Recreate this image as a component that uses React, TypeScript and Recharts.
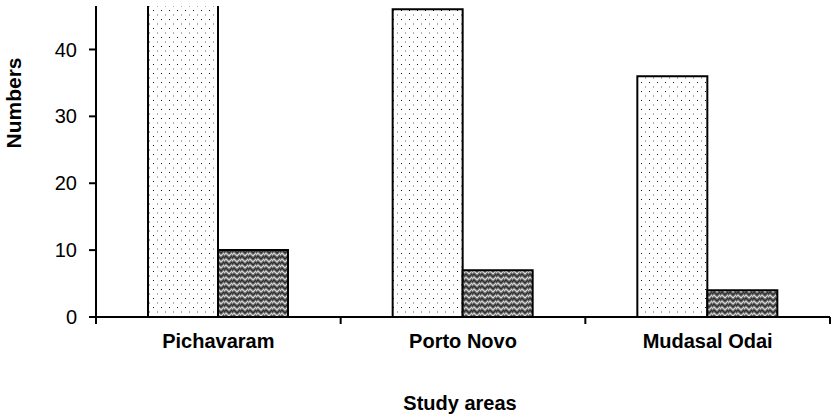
import React from 'react';
import { BarChart, Bar, XAxis, YAxis } from 'recharts';

const areas = ['Pichavaram', 'Porto Novo', 'Mudasal Odai'];
// first series runs past the top of the axis in the source figure
const seriesA = [52, 46, 36];
const seriesB = [10, 7, 4];
const yTicks = [0, 10, 20, 30, 40];

const data = areas.map((name, i) => ({ name, a: seriesA[i], b: seriesB[i] }));

const FONT = '"Liberation Sans", Arial, sans-serif';

const AreaTick = (props: any) => {
  const { x, y, payload, index } = props;
  const half = payload?.offset ?? 0;
  return (
    <g>
      <line x1={x - half} x2={x - half} y1={y} y2={y + 7} stroke="#000" strokeWidth={2} />
      {index === areas.length - 1 && (
        <line x1={x + half} x2={x + half} y1={y} y2={y + 7} stroke="#000" strokeWidth={2} />
      )}
      <text x={x} y={y + 31} textAnchor="middle" fontFamily={FONT} fontWeight="bold" fontSize={20} fill="#000">
        {payload.value}
      </text>
    </g>
  );
};

const App: React.FC = () => {
  return (
    <div style={{ position: 'absolute', left: 0, top: 0, width: 834, height: 417, background: '#fff' }}>
      <BarChart
        width={834}
        height={417}
        data={data}
        margin={{ top: 6, right: 4, bottom: 0, left: 0 }}
        barGap={0}
        barCategoryGap={52}
      >
        <defs>
          <pattern id="dots" width="8" height="9" patternUnits="userSpaceOnUse">
            <rect width="8" height="9" fill="#fff" />
            <rect x="1" y="1" width="1" height="1" fill="#111" />
            <rect x="5" y="5.5" width="1" height="1" fill="#555" />
          </pattern>
          <pattern id="weave" width="8" height="6" patternUnits="userSpaceOnUse">
            <rect width="8" height="6" fill="#6a6a6a" />
            <polyline points="-1,4 2,1 5,4 8,1 11,4" fill="none" stroke="#d8d8d8" strokeWidth="1.2" />
            <polyline points="-1,7 2,4 5,7 8,4 11,7" fill="none" stroke="#2e2e2e" strokeWidth="1.2" />
            <polyline points="-1,1 2,-2 5,1 8,-2 11,1" fill="none" stroke="#2e2e2e" strokeWidth="1.2" />
          </pattern>
        </defs>
        <XAxis
          dataKey="name"
          height={100}
          axisLine={{ stroke: '#000', strokeWidth: 2 }}
          tickLine={false}
          tickSize={0}
          tickMargin={0}
          interval={0}
          tick={<AreaTick />}
          label={{
            content: () => (
              <text x={460} y={410} textAnchor="middle" fontFamily={FONT} fontWeight="bold" fontSize={20} fill="#000">
                Study areas
              </text>
            ),
          }}
        />
        <YAxis
          width={96}
          domain={[0, 46.5]}
          ticks={yTicks}
          allowDataOverflow
          axisLine={{ stroke: '#000', strokeWidth: 2 }}
          tickLine={{ stroke: '#000', strokeWidth: 2 }}
          tickSize={7}
          tickMargin={12}
          tick={{ fontFamily: FONT, fontSize: 20, fill: '#000' }}
          label={{
            content: () => (
              <text
                x={21}
                y={103}
                transform="rotate(-90, 21, 103)"
                textAnchor="middle"
                fontFamily={FONT}
                fontWeight="bold"
                fontSize={21}
                fill="#000"
              >
                Numbers
              </text>
            ),
          }}
        />
        <Bar dataKey="a" fill="url(#dots)" stroke="#000" strokeWidth={2} isAnimationActive={false} />
        <Bar dataKey="b" fill="url(#weave)" stroke="#000" strokeWidth={2} isAnimationActive={false} />
      </BarChart>
    </div>
  );
};

export default App;
